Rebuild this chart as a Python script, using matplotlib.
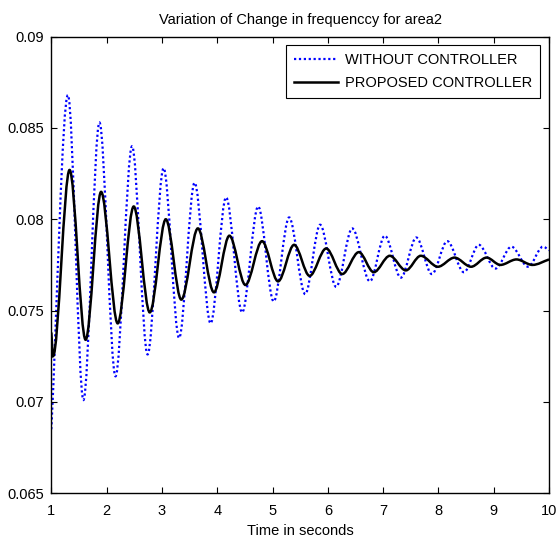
import numpy as np
import matplotlib
matplotlib.use("Agg")
import matplotlib.pyplot as plt
from matplotlib.path import Path
from matplotlib.patches import PathPatch
from matplotlib.lines import Line2D

plt.rcParams['font.family'] = ['Liberation Sans', 'DejaVu Sans']

# values: turning points of each response (time, value)
t_without = [1.00, 1.30, 1.58, 1.87, 2.16, 2.46, 2.74, 3.03, 3.31, 3.59, 3.88,
             4.16, 4.45, 4.74, 5.02, 5.30, 5.59, 5.86, 6.15, 6.44, 6.76,
             7.03, 7.32, 7.60, 7.88, 8.16, 8.46, 8.73, 9.03, 9.32, 9.62, 9.89, 10.0]
f_without = [0.0685, 0.0868, 0.0701, 0.0853, 0.0714, 0.0840, 0.0726, 0.0828, 0.0735, 0.0820, 0.0743,
             0.0812, 0.0749, 0.0807, 0.0755, 0.0801, 0.0759, 0.0797, 0.0763, 0.0795, 0.0766,
             0.0791, 0.0768, 0.0790, 0.0770, 0.0788, 0.0771, 0.0786, 0.0773, 0.0785, 0.0774, 0.0785, 0.0783]

t_proposed = [1.00, 1.03, 1.33, 1.62, 1.90, 2.20, 2.49, 2.78, 3.07, 3.35, 3.65, 3.94,
              4.22, 4.51, 4.81, 5.10, 5.39, 5.67, 5.97, 6.26, 6.56, 6.83,
              7.12, 7.41, 7.68, 7.99, 8.29, 8.59, 8.87, 9.12, 9.41, 9.70, 10.0]
f_proposed = [0.0738, 0.0725, 0.0827, 0.0734, 0.0815, 0.0743, 0.0807, 0.0749, 0.0800, 0.0756, 0.0795, 0.0760,
              0.0791, 0.0764, 0.0788, 0.0766, 0.0786, 0.0769, 0.0784, 0.0770, 0.0782, 0.0771,
              0.0780, 0.0772, 0.0780, 0.0774, 0.0779, 0.0774, 0.0779, 0.0775, 0.0778, 0.0775, 0.0778]

yticks = [0.065, 0.07, 0.075, 0.08, 0.085, 0.09]
ytick_labels = ['0.065', '0.07', '0.075', '0.08', '0.085', '0.09']


def smooth_path(t, v):
    # cubic segments with flat tangents at the turning points
    t = np.asarray(t, float)
    v = np.asarray(v, float)
    n = len(t)
    slope = np.zeros(n)
    slope[0] = (v[1] - v[0]) / (t[1] - t[0])
    slope[-1] = (v[-1] - v[-2]) / (t[-1] - t[-2])
    verts = [(t[0], v[0])]
    codes = [Path.MOVETO]
    for i in range(n - 1):
        h = (t[i+1] - t[i]) / 3.0
        verts += [(t[i] + h, v[i] + slope[i] * h),
                  (t[i+1] - h, v[i+1] - slope[i+1] * h),
                  (t[i+1], v[i+1])]
        codes += [Path.CURVE4] * 3
    return Path(verts, codes)


fig = plt.figure(figsize=(5.58, 5.39), dpi=100)
ax = fig.add_axes([0.092, 0.085, 0.892, 0.847])

ax.add_patch(PathPatch(smooth_path(t_without, f_without), fill=False,
                       edgecolor=(0, 0, 1), lw=1.6, ls=(0, (1.0, 1.2))))
ax.add_patch(PathPatch(smooth_path(t_proposed, f_proposed), fill=False,
                       edgecolor='black', lw=1.8))

ax.set_xlim(1, 10)
ax.set_ylim(0.065, 0.09)
ax.set_xticks(range(1, 11))
ax.set_yticks(yticks)
ax.set_yticklabels(ytick_labels)
ax.tick_params(direction='in', top=True, right=True, labelsize=10.5, length=4, width=0.8)
ax.tick_params(axis='x', pad=8)
ax.tick_params(axis='y', pad=5)
for s in ax.spines.values():
    s.set_linewidth(1.0)

ax.set_title('Variation of Change in frequenccy for area2', fontsize=10.5, pad=9)
ax.set_xlabel('Time in seconds', fontsize=10.5, labelpad=4)

handles = [Line2D([], [], color=(0, 0, 1), lw=1.6, ls=(0, (1.0, 1.2))),
           Line2D([], [], color='black', lw=1.8)]
leg = ax.legend(handles, ['WITHOUT CONTROLLER', 'PROPOSED CONTROLLER'],
                loc='upper right', fontsize=10.5, fancybox=False, framealpha=1,
                edgecolor='black', borderaxespad=0.6, handlelength=3.0,
                handletextpad=0.5, borderpad=0.55, labelspacing=0.6)
leg.get_frame().set_linewidth(0.8)

fig.savefig('out.png', dpi=100)
